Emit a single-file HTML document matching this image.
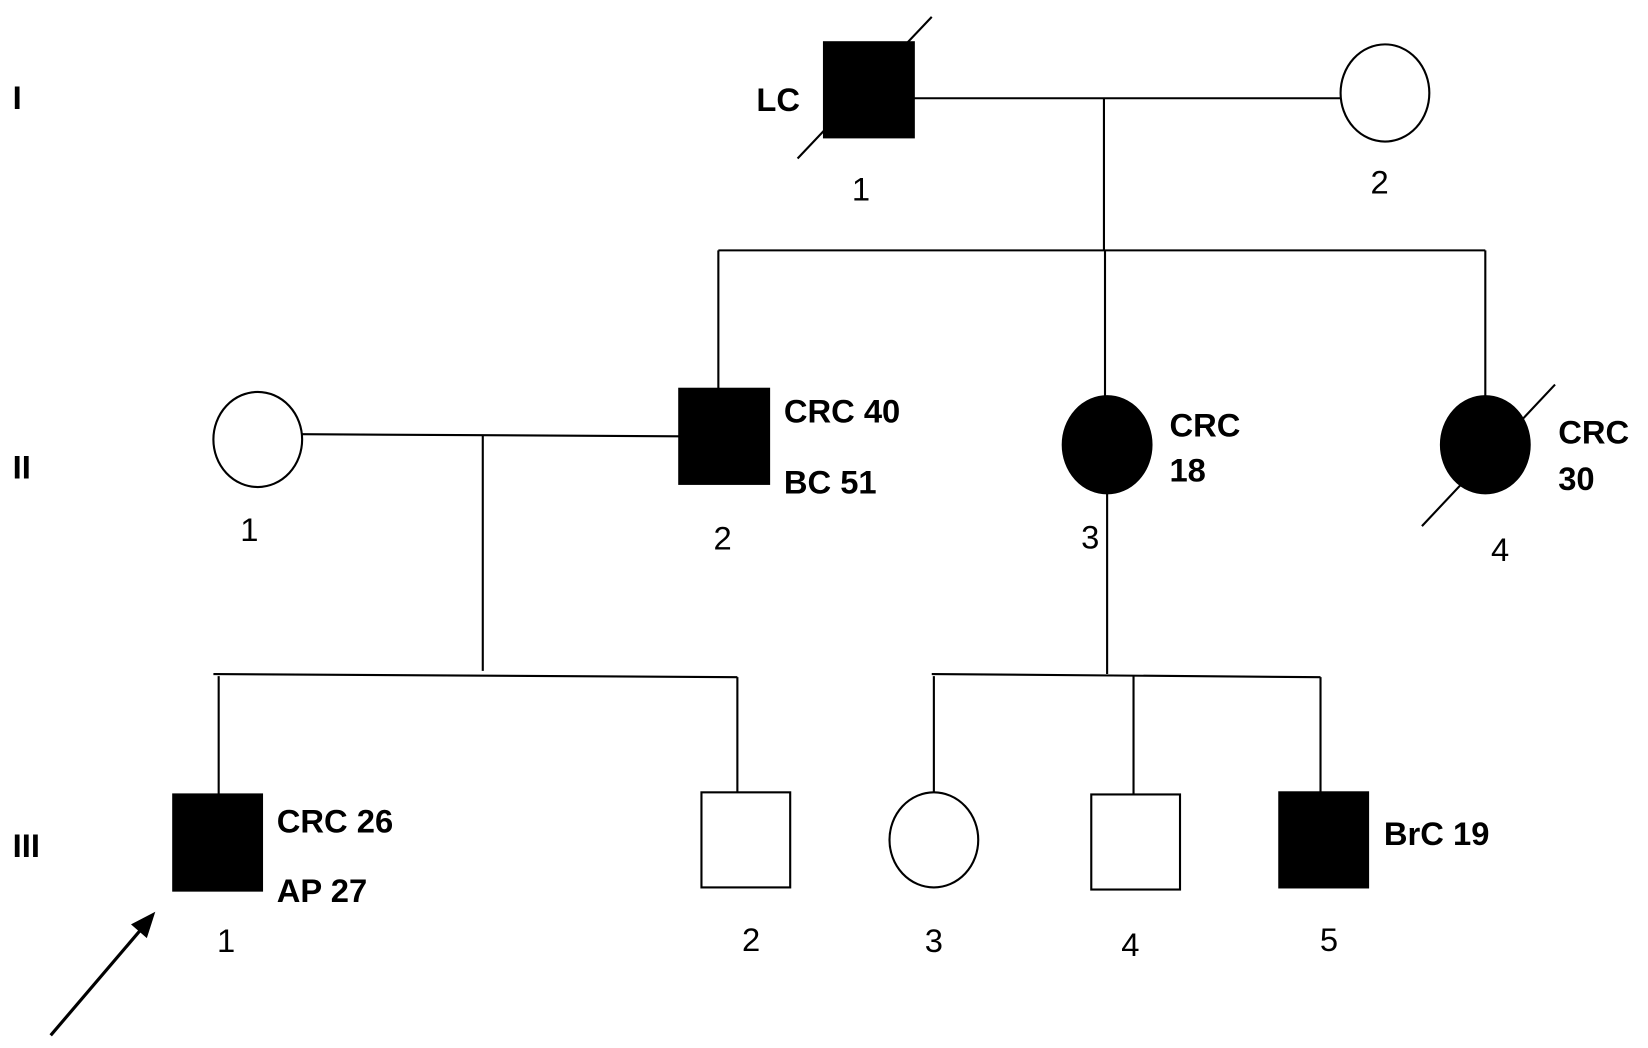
<!DOCTYPE html>
<html><head><meta charset="utf-8"><style>html,body{margin:0;padding:0;background:#fff}svg{display:block}</style></head><body>
<svg width="1648" height="1048" viewBox="0 0 1560 992" preserveAspectRatio="none" xmlns="http://www.w3.org/2000/svg" font-family="Liberation Sans, sans-serif">
<g stroke="#000" stroke-width="2" fill="none">
<line x1="865" y1="93" x2="1270" y2="93"/>
<line x1="1045" y1="93" x2="1045" y2="237"/>
<line x1="680" y1="237" x2="1406" y2="237"/>
<line x1="680" y1="237" x2="680" y2="368"/>
<line x1="1046" y1="237" x2="1046" y2="376"/>
<line x1="1406" y1="237" x2="1406" y2="376"/>
<line x1="286" y1="411" x2="643" y2="413"/>
<line x1="457" y1="412" x2="457" y2="635"/>
<line x1="202" y1="638" x2="698" y2="641"/>
<line x1="207" y1="640" x2="207" y2="752"/>
<line x1="698" y1="641" x2="698" y2="750"/>
<line x1="1048" y1="467" x2="1048" y2="638"/>
<line x1="882" y1="638" x2="1250" y2="641"/>
<line x1="884" y1="640" x2="884" y2="750"/>
<line x1="1073" y1="640" x2="1073" y2="752"/>
<line x1="1250" y1="641" x2="1250" y2="750"/>
<line x1="755" y1="150" x2="882" y2="16"/>
<line x1="1346" y1="498" x2="1472" y2="364"/>
<line x1="48" y1="980" x2="135" y2="878" stroke-width="3"/>
</g>
<polygon points="147,863 124,875 139,888" fill="#000"/>
<g stroke="#000" stroke-width="2">
<rect x="780" y="40" width="85" height="90" fill="#000"/>
<ellipse cx="1311" cy="88" rx="42" ry="46" fill="#fff"/>
<ellipse cx="244" cy="416" rx="42" ry="45" fill="#fff"/>
<rect x="643" y="368" width="85" height="90" fill="#000"/>
<ellipse cx="1048" cy="421" rx="42" ry="46" fill="#000"/>
<ellipse cx="1406" cy="421" rx="42" ry="46" fill="#000"/>
<rect x="164" y="752" width="84" height="91" fill="#000"/>
<rect x="664" y="750" width="84" height="90" fill="#fff"/>
<ellipse cx="884" cy="795" rx="42" ry="45" fill="#fff"/>
<rect x="1033" y="752" width="84" height="90" fill="#fff"/>
<rect x="1211" y="750" width="84" height="90" fill="#000"/>
</g>
<g font-weight="bold" font-size="31" fill="#000">
<text x="12" y="103">I</text>
<text x="12" y="453">II</text>
<text x="12" y="811">III</text>
<text x="716" y="105">LC</text>
<text x="742" y="400">CRC 40</text>
<text x="742" y="467">BC 51</text>
<text x="1107" y="413">CRC</text>
<text x="1107" y="456">18</text>
<text x="1475" y="420">CRC</text>
<text x="1475" y="464">30</text>
<text x="262" y="788">CRC 26</text>
<text x="262" y="854">AP 27</text>
<text x="1310" y="800">BrC 19</text>
</g>
<g font-size="31" fill="#000" text-anchor="middle">
<text x="815" y="190">1</text>
<text x="1306" y="183">2</text>
<text x="236" y="512">1</text>
<text x="684" y="520">2</text>
<text x="1032" y="519">3</text>
<text x="1420" y="531">4</text>
<text x="214" y="901">1</text>
<text x="711" y="900">2</text>
<text x="884" y="901">3</text>
<text x="1070" y="905">4</text>
<text x="1258" y="900">5</text>
</g>
</svg>
</body></html>
